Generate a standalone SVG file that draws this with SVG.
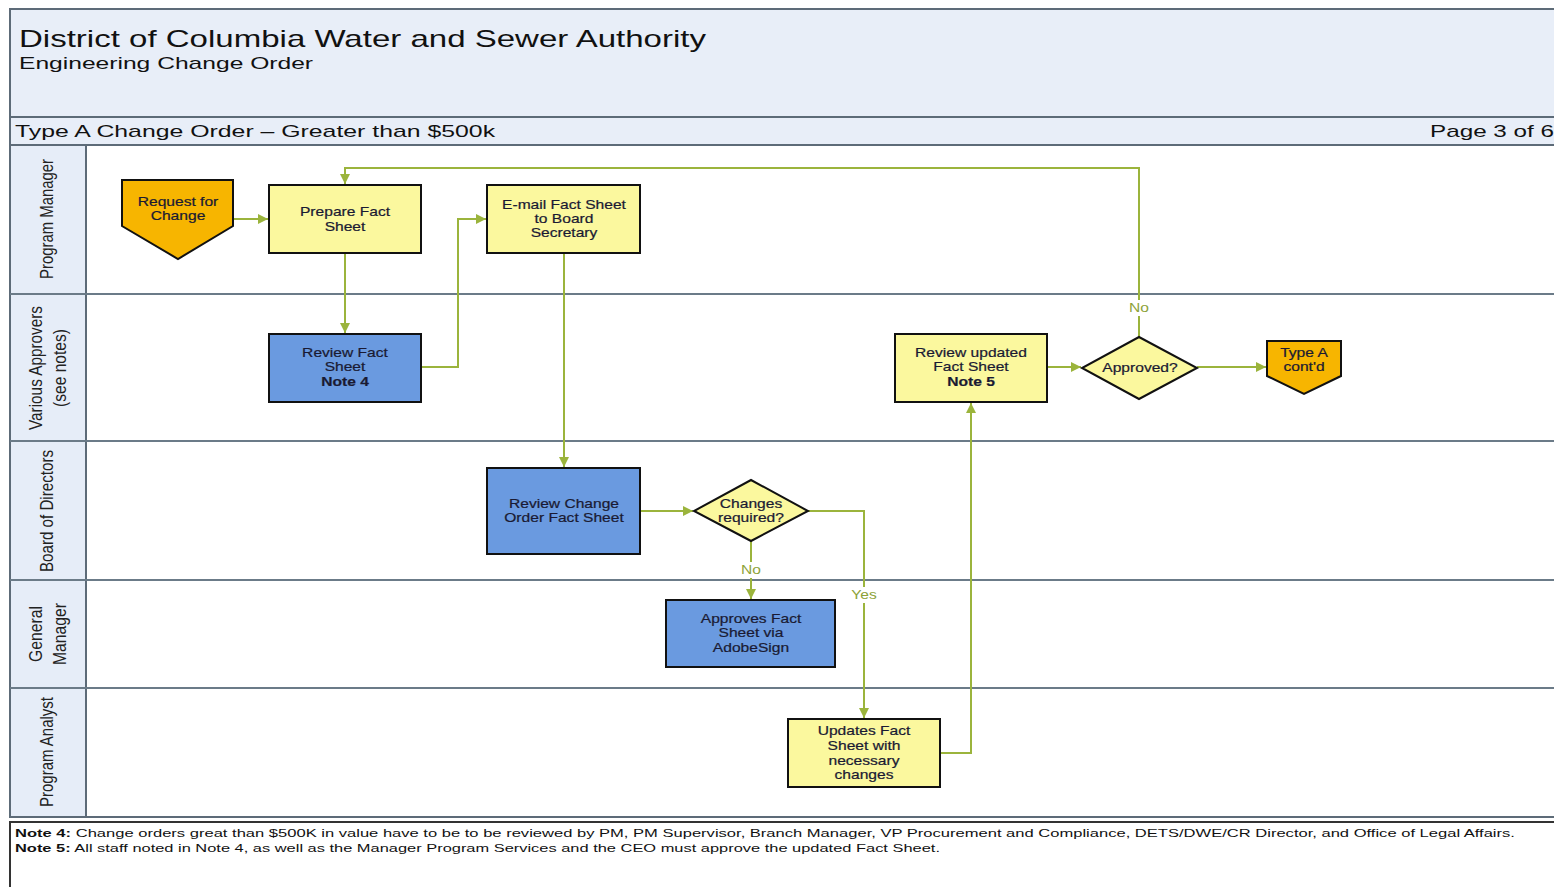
<svg xmlns="http://www.w3.org/2000/svg" width="1554" height="887" viewBox="0 0 1554 887">
  <defs>
    <style>
      .frame { fill: #e8eef8; stroke: #5d6b78; stroke-width: 2; }
      .lane { fill: #ffffff; stroke: #5d6b78; stroke-width: 2; }
      .lanehead { fill: #e6edf8; stroke: #5d6b78; stroke-width: 2; }
      .sep { stroke: #6b7b88; stroke-width: 2; }
      .hdr { font-family: "Liberation Sans", Arial, sans-serif; fill: #111111; }
      .lanelbl { font-family: "Liberation Sans", Arial, sans-serif; font-size: 15px; fill: #222222; text-anchor: middle; }
      .box { stroke: #111111; stroke-width: 2; }
      .yellow { fill: #fbf89e; }
      .blue { fill: #6a9ae0; }
      .orange { fill: #f7b500; }
      .txt { font-family: "Liberation Sans", Arial, sans-serif; font-size: 12px; fill: #1a1a33; stroke: #1a1a33; stroke-width: 0.2; text-anchor: middle; }
      .bold { font-weight: bold; }
      .conn { fill: none; stroke: #9bb43c; stroke-width: 2; }
      .clbl { font-family: "Liberation Sans", Arial, sans-serif; font-size: 12px; fill: #8ca238; text-anchor: middle; }
      .note { font-family: "Liberation Sans", Arial, sans-serif; font-size: 11px; fill: #111111; }
    </style>
    <marker id="arrow" viewBox="0 0 10 10" refX="10" refY="5" markerWidth="10" markerHeight="10" markerUnits="userSpaceOnUse" orient="auto">
      <path d="M0,0 L10,5 L0,10 z" fill="#9bb43c"/>
    </marker>
  </defs>

  <rect width="1554" height="887" fill="#ffffff"/>

  <!-- header: titles are set in a horizontally widened frame -->
  <g id="header">
    <rect class="frame" x="10" y="9" width="1560" height="108"/>
    <text class="hdr" transform="translate(19,47) scale(1.4,1)" font-size="24" textLength="490.7" lengthAdjust="spacingAndGlyphs">District of Columbia Water and Sewer Authority</text>
    <text class="hdr" transform="translate(19,69) scale(1.35,1)" font-size="16" textLength="217.8" lengthAdjust="spacingAndGlyphs">Engineering Change Order</text>
    <rect class="frame" x="10" y="117" width="1560" height="28"/>
    <text class="hdr" transform="translate(15,137) scale(1.4,1)" font-size="17" textLength="342.9" lengthAdjust="spacingAndGlyphs">Type A Change Order – Greater than $500k</text>
    <text class="hdr" transform="translate(1430,137) scale(1.4,1)" font-size="17" textLength="88.6" lengthAdjust="spacingAndGlyphs">Page 3 of 6</text>
  </g>

  <!-- swimlanes -->
  <g id="lanes">
    <rect class="lane" x="10" y="145" width="1560" height="672"/>
    <rect class="lanehead" x="10" y="145" width="76" height="672"/>
    <line class="sep" x1="10" y1="294" x2="1560" y2="294"/>
    <line class="sep" x1="10" y1="441" x2="1560" y2="441"/>
    <line class="sep" x1="10" y1="580" x2="1560" y2="580"/>
    <line class="sep" x1="10" y1="688" x2="1560" y2="688"/>
    <text class="lanelbl" transform="translate(53,219) scale(1.25,1) rotate(-90)" textLength="120" lengthAdjust="spacingAndGlyphs">Program Manager</text>
    <text class="lanelbl" transform="translate(42,368) scale(1.25,1) rotate(-90)" textLength="124" lengthAdjust="spacingAndGlyphs">Various Approvers</text>
    <text class="lanelbl" transform="translate(66,368) scale(1.25,1) rotate(-90)" textLength="78" lengthAdjust="spacingAndGlyphs">(see notes)</text>
    <text class="lanelbl" transform="translate(53,511) scale(1.25,1) rotate(-90)" textLength="122" lengthAdjust="spacingAndGlyphs">Board of Directors</text>
    <text class="lanelbl" transform="translate(42,634) scale(1.25,1) rotate(-90)" textLength="56" lengthAdjust="spacingAndGlyphs">General</text>
    <text class="lanelbl" transform="translate(66,634) scale(1.25,1) rotate(-90)" textLength="62" lengthAdjust="spacingAndGlyphs">Manager</text>
    <text class="lanelbl" transform="translate(53,752) scale(1.25,1) rotate(-90)" textLength="110" lengthAdjust="spacingAndGlyphs">Program Analyst</text>
  </g>

  <!-- connectors -->
  <g id="connectors">
    <path class="conn" d="M233,219 H268" marker-end="url(#arrow)"/>
    <path class="conn" d="M345,253 V333" marker-end="url(#arrow)"/>
    <path class="conn" d="M421,367 H458 V219 H486" marker-end="url(#arrow)"/>
    <path class="conn" d="M564,253 V467" marker-end="url(#arrow)"/>
    <path class="conn" d="M640,511 H693" marker-end="url(#arrow)"/>
    <path class="conn" d="M751,541 V562 M751,578 V599" marker-end="url(#arrow)"/>
    <path class="conn" d="M808,511 H864 V587 M864,603 V718" marker-end="url(#arrow)"/>
    <path class="conn" d="M940,753 H971 V403" marker-end="url(#arrow)"/>
    <path class="conn" d="M1047,367 H1081" marker-end="url(#arrow)"/>
    <path class="conn" d="M1197,367 H1266" marker-end="url(#arrow)"/>
    <path class="conn" d="M1139,337 V316 M1139,300 V168 H345 V184" marker-end="url(#arrow)"/>
    <text class="clbl" transform="translate(751,574) scale(1.3,1)">No</text>
    <text class="clbl" transform="translate(864,599) scale(1.3,1)">Yes</text>
    <text class="clbl" transform="translate(1139,312) scale(1.3,1)">No</text>
  </g>

  <!-- nodes: labels are drawn in a horizontally widened frame centred on each node -->
  <g id="request-for-change">
    <path class="box orange" d="M122,180 H233 V226 L178,259 L122,226 Z"/>
    <g transform="translate(178,0) scale(1.3,1)">
      <text class="txt" x="0" y="206">Request for</text>
      <text class="txt" x="0" y="220">Change</text>
    </g>
  </g>
  <g id="prepare-fact-sheet">
    <rect class="box yellow" x="269" y="185" width="152" height="68"/>
    <g transform="translate(345,0) scale(1.3,1)">
      <text class="txt" x="0" y="216">Prepare Fact</text>
      <text class="txt" x="0" y="231">Sheet</text>
    </g>
  </g>
  <g id="email-fact-sheet">
    <rect class="box yellow" x="487" y="185" width="153" height="68"/>
    <g transform="translate(564,0) scale(1.3,1)">
      <text class="txt" x="0" y="209">E-mail Fact Sheet</text>
      <text class="txt" x="0" y="223">to Board</text>
      <text class="txt" x="0" y="237">Secretary</text>
    </g>
  </g>
  <g id="review-fact-sheet">
    <rect class="box blue" x="269" y="334" width="152" height="68"/>
    <g transform="translate(345,0) scale(1.3,1)">
      <text class="txt" x="0" y="357">Review Fact</text>
      <text class="txt" x="0" y="371">Sheet</text>
      <text class="txt bold" x="0" y="386">Note 4</text>
    </g>
  </g>
  <g id="review-updated-fact-sheet">
    <rect class="box yellow" x="895" y="334" width="152" height="68"/>
    <g transform="translate(971,0) scale(1.3,1)">
      <text class="txt" x="0" y="357">Review updated</text>
      <text class="txt" x="0" y="371">Fact Sheet</text>
      <text class="txt bold" x="0" y="386">Note 5</text>
    </g>
  </g>
  <g id="approved">
    <path class="box yellow" d="M1139,337 L1197,368 L1139,399 L1082,368 Z"/>
    <g transform="translate(1140,0) scale(1.3,1)">
      <text class="txt" x="0" y="372">Approved?</text>
    </g>
  </g>
  <g id="type-a-contd">
    <path class="box orange" d="M1267,341 H1341 V376 L1304,394 L1267,376 Z"/>
    <g transform="translate(1304,0) scale(1.3,1)">
      <text class="txt" x="0" y="357">Type A</text>
      <text class="txt" x="0" y="371">cont'd</text>
    </g>
  </g>
  <g id="review-change-order">
    <rect class="box blue" x="487" y="468" width="153" height="86"/>
    <g transform="translate(564,0) scale(1.3,1)">
      <text class="txt" x="0" y="508">Review Change</text>
      <text class="txt" x="0" y="522">Order Fact Sheet</text>
    </g>
  </g>
  <g id="changes-required">
    <path class="box yellow" d="M751,480 L808,511 L751,541 L694,511 Z"/>
    <g transform="translate(751,0) scale(1.3,1)">
      <text class="txt" x="0" y="508">Changes</text>
      <text class="txt" x="0" y="522">required?</text>
    </g>
  </g>
  <g id="approves-fact-sheet">
    <rect class="box blue" x="666" y="600" width="169" height="67"/>
    <g transform="translate(751,0) scale(1.3,1)">
      <text class="txt" x="0" y="623">Approves Fact</text>
      <text class="txt" x="0" y="637">Sheet via</text>
      <text class="txt" x="0" y="652">AdobeSign</text>
    </g>
  </g>
  <g id="updates-fact-sheet">
    <rect class="box yellow" x="788" y="719" width="152" height="68"/>
    <g transform="translate(864,0) scale(1.3,1)">
      <text class="txt" x="0" y="735">Updates Fact</text>
      <text class="txt" x="0" y="750">Sheet with</text>
      <text class="txt" x="0" y="765">necessary</text>
      <text class="txt" x="0" y="779">changes</text>
    </g>
  </g>

  <!-- notes -->
  <g id="notes">
    <rect x="10" y="822" width="1560" height="70" fill="#ffffff" stroke="#333333" stroke-width="2"/>
    <text class="note" transform="translate(15,837) scale(1.3,1)" textLength="1153.8" lengthAdjust="spacingAndGlyphs"><tspan font-weight="bold">Note 4:</tspan> Change orders great than $500K in value have to be  to be reviewed by PM, PM Supervisor, Branch Manager, VP Procurement and Compliance, DETS/DWE/CR Director, and Office of Legal Affairs.</text>
    <text class="note" transform="translate(15,852) scale(1.3,1)" textLength="711.5" lengthAdjust="spacingAndGlyphs"><tspan font-weight="bold">Note 5:</tspan> All staff noted in Note 4, as well as the Manager Program Services and the CEO must approve the updated Fact Sheet.</text>
  </g>
</svg>
